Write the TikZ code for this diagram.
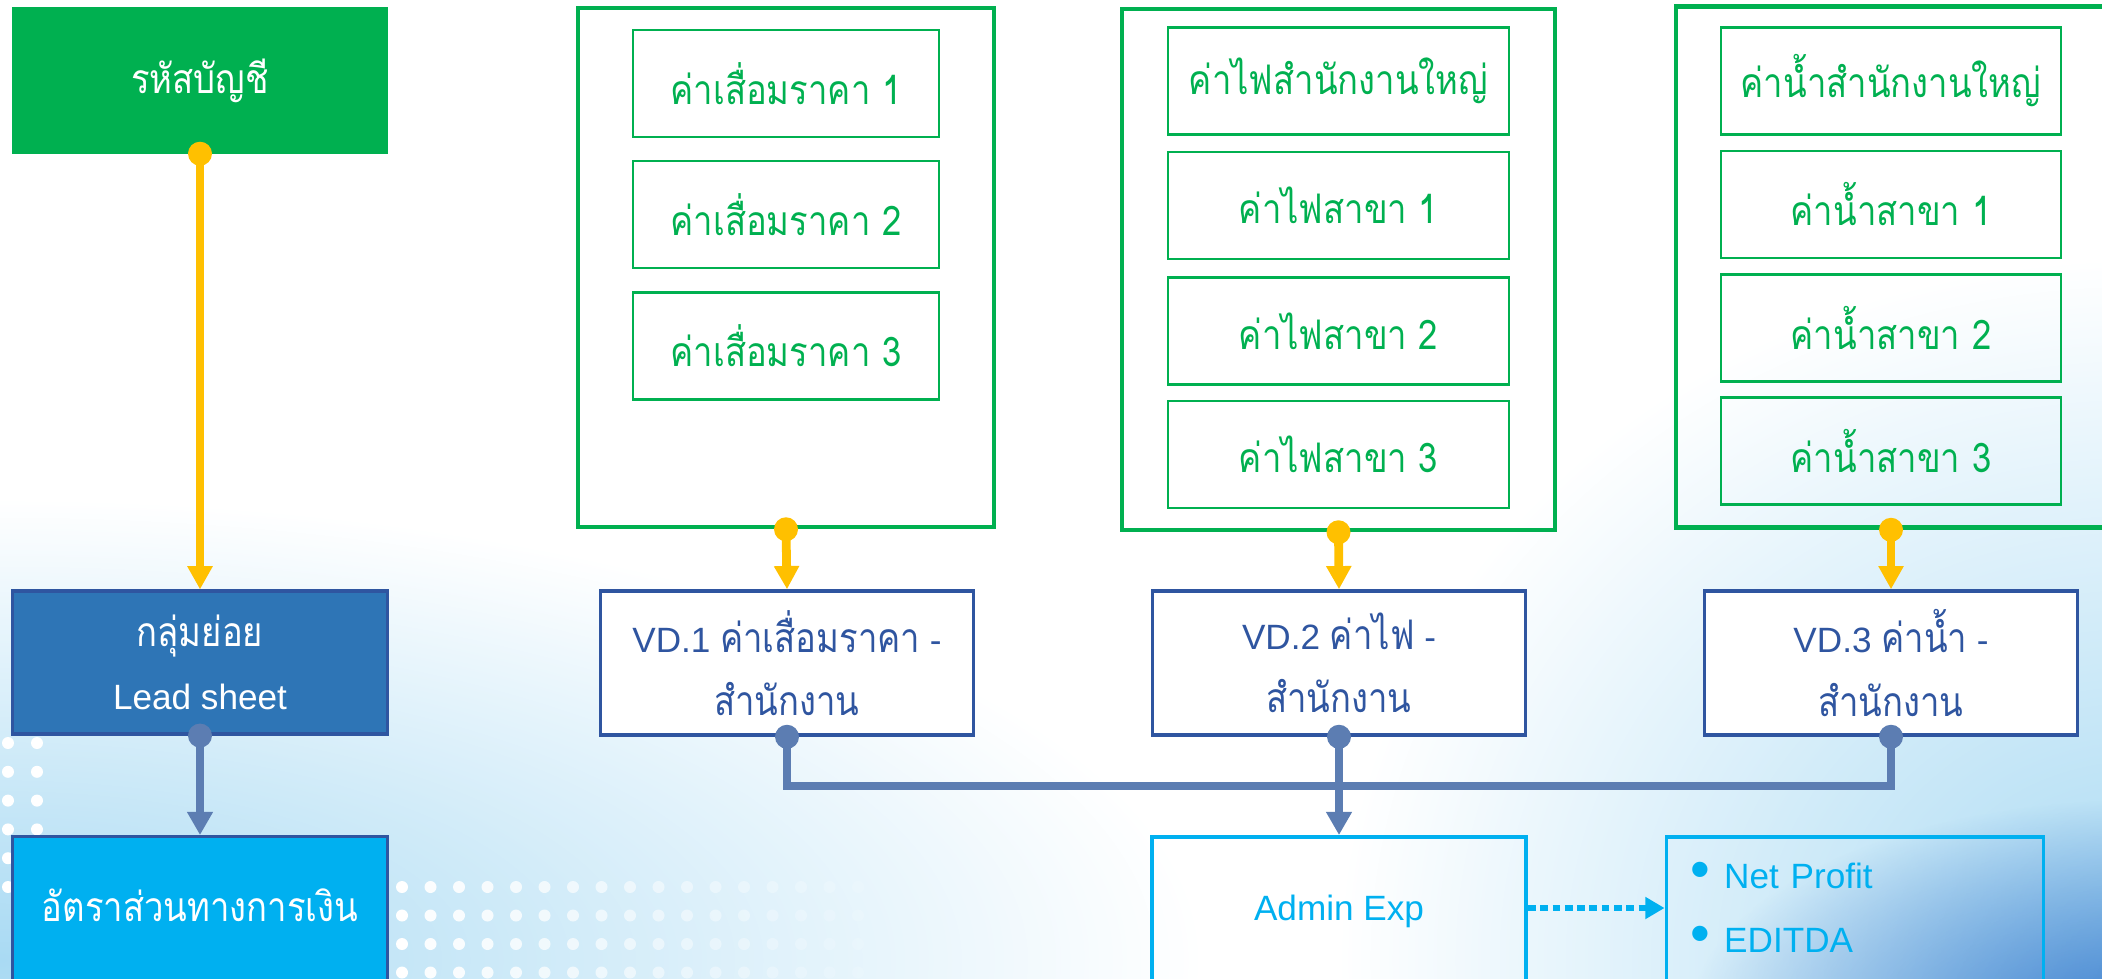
\documentclass[tikz,border=0pt]{standalone}
\usepackage{fontspec}
\setmainfont{Liberation Sans}
\newfontfamily\thaifont[Script=Thai, FakeStretch=0.85, Scale=1.16]{Loma}
\usetikzlibrary{arrows.meta,fadings}

\definecolor{accgreen}{HTML}{00B050}
\definecolor{accyellow}{HTML}{FFC000}
\definecolor{leadblue}{HTML}{2E75B6}
\definecolor{darkblue}{HTML}{2F55A0}
\definecolor{linkblue}{HTML}{5C7DB2}
\definecolor{skyblue}{HTML}{00B0F0}
\definecolor{glowblue}{HTML}{A9DAF3}
\definecolor{deepblue}{HTML}{3F80CF}

\tikzfading[name=softglow, inner color=transparent!0, outer color=transparent!100]

\begin{document}
\begin{tikzpicture}[every node/.style={rectangle, inner sep=0pt, align=center, font=\fontsize{10}{18}\selectfont},
    solidbox/.style={draw=#1, fill=#1, text=white, minimum width=3.75cm},
    groupbox/.style={draw=accgreen, line width=1.3pt, minimum width=#1},
    itembox/.style={draw=accgreen, line width=0.8pt, text=accgreen, minimum height=1.07cm},
    vdbox/.style={draw=darkblue, line width=1pt, fill=white, text=darkblue, minimum width=3.73cm, minimum height=1.44cm},
    knob/.style={circle, fill=#1, minimum size=0.24cm},
    goldlink/.style={accyellow, line width=2.5pt, -{Triangle[width=6.8pt,length=6.6pt]}},
    bluelink/.style={linkblue, line width=2.2pt}]
    \useasboundingbox (0,0) rectangle (21.02,-9.79);
    \clip (0,0) rectangle (21.02,-9.79);

    \fill[glowblue, path fading=softglow] (0,-9.6) ellipse (12 and 4.6);
    \fill[glowblue, path fading=softglow] (21.4,-9.6) ellipse (8 and 7);
    \fill[deepblue, path fading=softglow] (21.4,-10.2) ellipse (4.5 and 2.2);
    \foreach \i in {0,...,5}
        \foreach \j in {0,1}
            \fill[white] (0.08+0.29*\j,-7.43-0.288*\i) circle (0.06);
    \foreach \i in {0,...,16}
        \foreach \j in {0,...,3}
            \fill[white, opacity={1-\i/18}] (4.02+0.285*\i,-8.87-0.285*\j) circle (0.06);

    \node[solidbox=accgreen, minimum height=1.45cm] (acct) at (2.00,-0.805) {\thaifont รหัสบัญชี};
    \node[solidbox=leadblue, draw=darkblue, line width=0.9pt, minimum height=1.43cm] (lead) at (2.00,-6.625) {{\thaifont กลุ่มย่อย}\\Lead sheet};
    \node[solidbox=skyblue, draw=darkblue, line width=0.9pt, anchor=north, text height=0.85cm, text depth=1cm] (ratio) at (2.00,-8.35) {\thaifont อัตราส่วนทางการเงิน};

    \node[groupbox=4.16cm, minimum height=5.19cm] (dep) at (7.86,-2.675) {};
    \node[itembox, minimum width=3.06cm] (dep1) at (7.86,-0.835) {\thaifont ค่าเสื่อมราคา 1};
    \node[itembox, minimum width=3.06cm] (dep2) at (7.86,-2.145) {\thaifont ค่าเสื่อมราคา 2};
    \node[itembox, minimum width=3.06cm] (dep3) at (7.86,-3.46) {\thaifont ค่าเสื่อมราคา 3};

    \node[groupbox=4.33cm, minimum height=5.21cm] (elec) at (13.385,-2.695) {};
    \node[itembox, minimum width=3.41cm] (elec1) at (13.385,-0.81) {\thaifont ค่าไฟสำนักงานใหญ่};
    \node[itembox, minimum width=3.41cm] (elec2) at (13.385,-2.055) {\thaifont ค่าไฟสาขา 1};
    \node[itembox, minimum width=3.41cm] (elec3) at (13.385,-3.31) {\thaifont ค่าไฟสาขา 2};
    \node[itembox, minimum width=3.41cm] (elec4) at (13.385,-4.545) {\thaifont ค่าไฟสาขา 3};

    \node[groupbox=4.64cm, minimum height=5.21cm] (water) at (19.08,-2.67) {};
    \node[itembox, minimum width=3.40cm] (water1) at (18.91,-0.81) {\thaifont ค่าน้ำสำนักงานใหญ่};
    \node[itembox, minimum width=3.40cm] (water2) at (18.91,-2.045) {\thaifont ค่าน้ำสาขา 1};
    \node[itembox, minimum width=3.40cm] (water3) at (18.91,-3.28) {\thaifont ค่าน้ำสาขา 2};
    \node[itembox, minimum width=3.40cm] (water4) at (18.91,-4.507) {\thaifont ค่าน้ำสาขา 3};

    \node[vdbox] (vd1) at (7.87,-6.63) {VD.1 {\thaifont ค่าเสื่อมราคา} -\\{\thaifont สำนักงาน}};
    \node[vdbox] (vd2) at (13.39,-6.63) {VD.2 {\thaifont ค่าไฟ} -\\{\thaifont สำนักงาน}};
    \node[vdbox] (vd3) at (18.91,-6.63) {VD.3 {\thaifont ค่าน้ำ} -\\{\thaifont สำนักงาน}};

    \node[draw=skyblue, line width=1.1pt, text=skyblue, minimum width=3.74cm, anchor=north, text height=0.84cm, text depth=1cm] (admin) at (13.39,-8.35) {Admin Exp};
    \node[draw=skyblue, line width=1.1pt, text=skyblue, text width=3.29cm, inner xsep=0.24cm, inner ysep=0.25cm, align=left, anchor=north, text depth=1.5cm, font=\fontsize{10}{18.4}\selectfont] (net) at (18.55,-8.35)
        {{\fontsize{16}{18.4}\selectfont •}\hspace{0.14cm}Net Profit\\{\fontsize{16}{18.4}\selectfont •}\hspace{0.14cm}EDITDA};

    \node[knob=accyellow] (k0) at (acct.south) {};
    \node[knob=accyellow] (k1) at (dep.south) {};
    \node[knob=accyellow] (k2) at (elec.south) {};
    \node[knob=accyellow] (k3) at (vd3 |- water.south) {};
    \node[knob=linkblue] (kb) at (lead.south) {};
    \node[knob=linkblue] (b1) at (vd1.south) {};
    \node[knob=linkblue] (b2) at (vd2.south) {};
    \node[knob=linkblue] (b3) at (vd3.south) {};
    \coordinate (join) at (13.39,-7.86);

    \draw[goldlink] (k0.center) -- (lead.north);
    \draw[goldlink] (k1.center) -- (vd1.north);
    \draw[goldlink] (k2.center) -- (vd2.north);
    \draw[goldlink] (k3.center) -- (vd3.north);
    \draw[bluelink, -{Triangle[width=7pt,length=6.6pt]}] (kb.center) -- (ratio.north);
    \draw[bluelink] (b1.center) |- (join) -| (b3.center);
    \draw[bluelink, -{Triangle[width=7pt,length=6.6pt]}] (b2.center) -- (admin.north);
    \draw[skyblue, line width=1.8pt, dash pattern=on 2.2pt off 1.3pt, -{Triangle[width=6pt,length=5.5pt]}] ([yshift=-0.73cm]admin.north east) -- ([yshift=-0.73cm]net.north west);
\end{tikzpicture}
\end{document}
